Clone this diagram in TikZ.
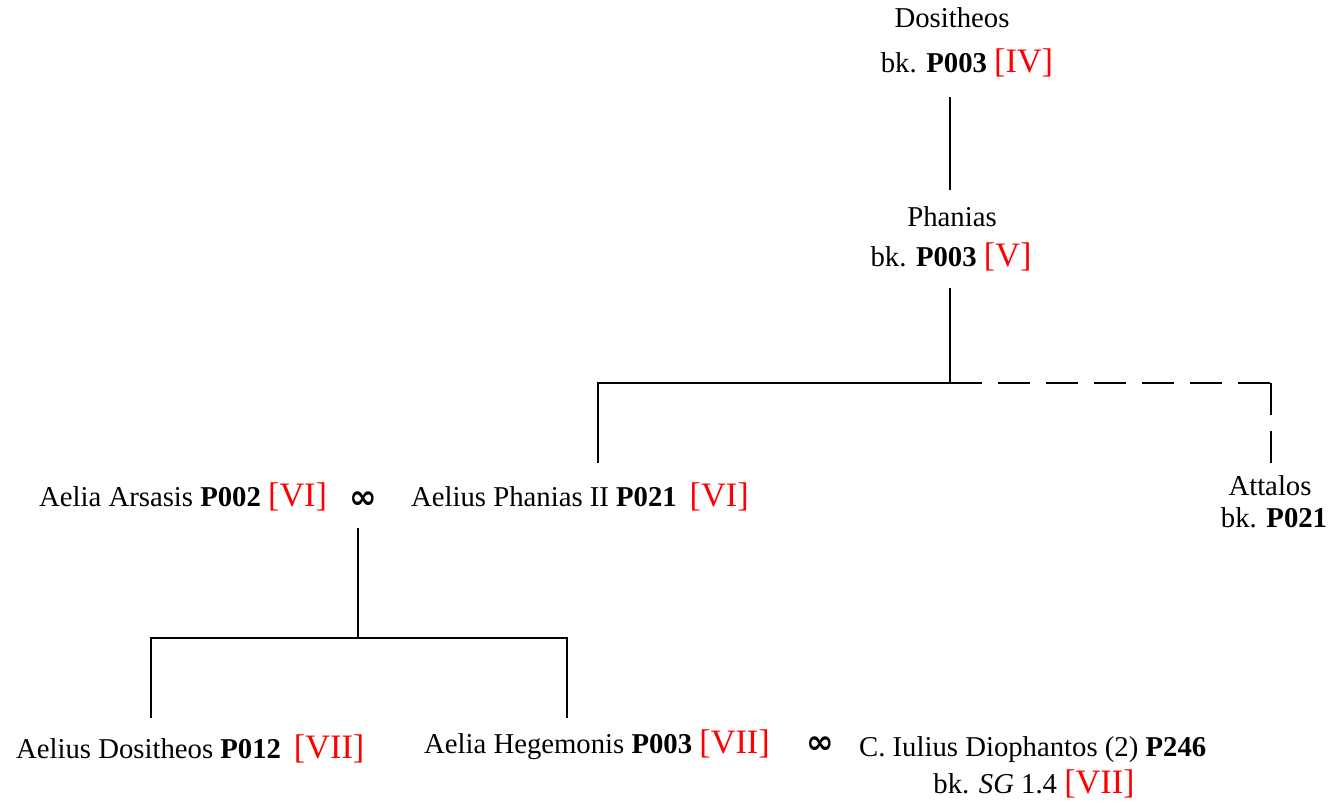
\documentclass[tikz,border=0pt,12pt]{standalone}
\usepackage{fontspec}
\setmainfont{Liberation Serif}
\newfontfamily\symfont{DejaVu Sans}
\newcommand{\gen}[1]{{\fontsize{15.5}{18}\selectfont\color{red}[#1]}}
\newcommand{\pid}[1]{\textbf{#1}}
\begin{document}
\begin{tikzpicture}[x=0.4525pt, y=-0.4525pt, line width=1pt,
		every node/.style={font=\fontsize{13}{16}\selectfont},
		person/.style={inner sep=0pt, anchor=base west},
		personc/.style={inner sep=0pt, anchor=base},
		marriage/.style={inner sep=0pt, font=\symfont\bfseries\fontsize{15}{18}\selectfont},
		unknown/.style={dash pattern=on 14.5pt off 7.2pt}]
		\useasboundingbox (0,0) rectangle (1329,804);
		\node[personc] (dos) at (952,27) {Dositheos};
		\node[personc] (dosbk) at (967,72) {bk. \pid{P003} \gen{IV}};
		\node[personc] (phan) at (952,226) {Phanias};
		\node[personc] (phanbk) at (951,266) {bk. \pid{P003} \gen{V}};
		\node[person] (ars) at (38,506) {Aelia Arsasis \pid{P002} \gen{VI}};
		\node[marriage] (m1) at (363,500) {∞};
		\node[person] (aph) at (410,506) {Aelius Phanias II \pid{P021}\hspace{0.45em}\gen{VI}};
		\node[personc] (att) at (1270,495) {Attalos};
		\node[personc] (attbk) at (1274,527) {bk. \pid{P021}};
		\node[person] (ado) at (15,758) {Aelius Dositheos \pid{P012}\hspace{0.45em}\gen{VII}};
		\node[person] (aheg) at (423,753) {Aelia Hegemonis \pid{P003} \gen{VII}};
		\node[marriage] (m2) at (820,745) {∞};
		\node[person] (dio) at (858,756) {C. Iulius Diophantos (2) \pid{P246}};
		\node[personc] (diobk) at (1034,793) {bk. \textit{SG} 1.4 \gen{VII}};
		\coordinate (dosfoot) at (950,97);
		\coordinate (phanhead) at (950,190);
		\coordinate (phanfoot) at (950,288);
		\coordinate (fork) at (950,383);
		\coordinate (forkr) at (1271,383);
		\coordinate (aphhead) at (598,463);
		\coordinate (atthead) at (1271,463);
		\coordinate (m1foot) at (358,528);
		\coordinate (fork2) at (358,638);
		\coordinate (fork2r) at (567,638);
		\coordinate (adohead) at (151,718);
		\coordinate (aheghead) at (567,718);
		\draw (dosfoot) -- (phanhead);
		\draw (phanfoot) -- (fork);
		\draw (aphhead) |- (fork);
		\draw[unknown] (fork) -- (forkr);
		\draw[unknown] (forkr) -- (atthead);
		\draw (m1foot) -- (fork2);
		\draw (adohead) |- (fork2r) -- (aheghead);
	\end{tikzpicture}
\end{document}
